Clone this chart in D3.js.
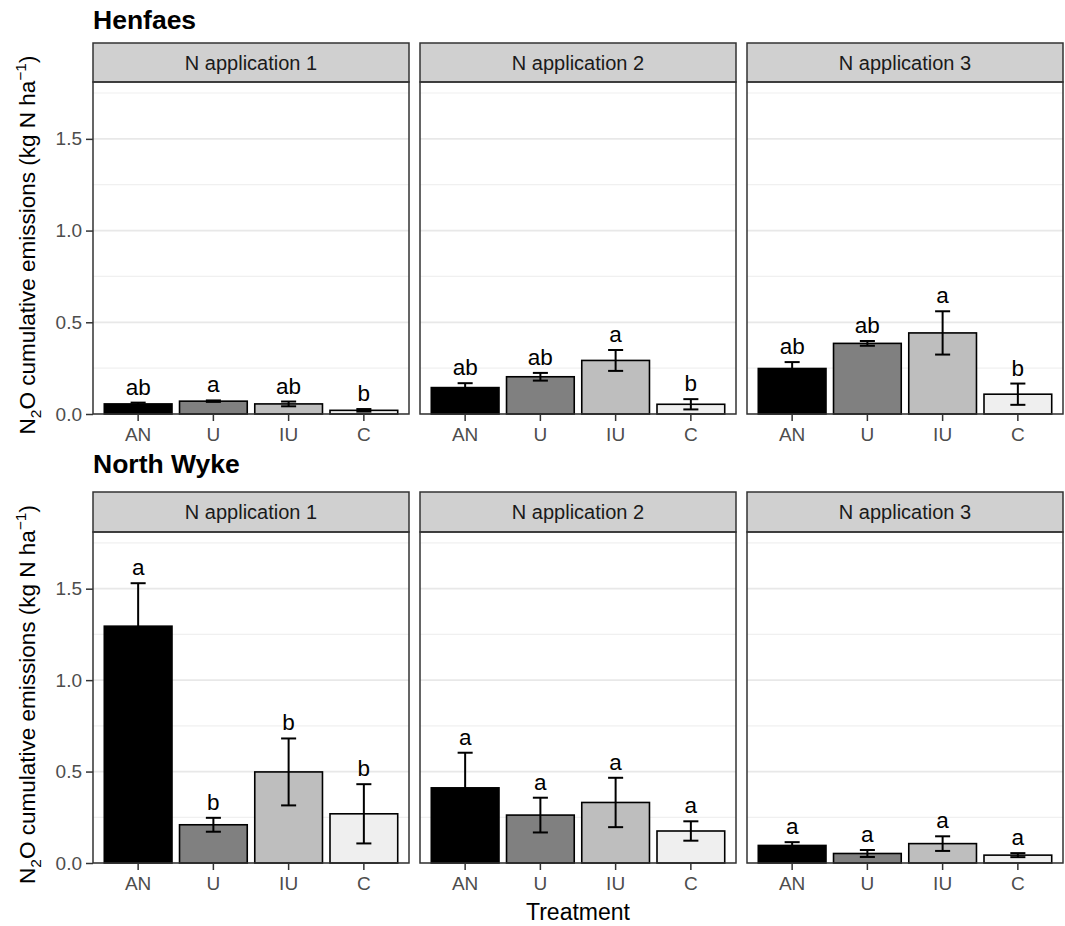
<!DOCTYPE html>
<html>
<head>
<meta charset="utf-8">
<script src="https://cdn.jsdelivr.net/npm/d3@7"></script>
<style>
  html, body { margin: 0; padding: 0; background: #fff; }
  svg { display: block; font-family: "Liberation Sans", Arial, Helvetica, sans-serif; }
</style>
</head>
<body>
<script>
// ---------------- DATA ----------------
const treatments = ["AN", "U", "IU", "C"];
const applications = ["N application 1", "N application 2", "N application 3"];
const sites = ["Henfaes", "North Wyke"];
const fillColors = ["#000000", "#808080", "#bebebe", "#efefef"];

// Henfaes: means, standard errors and significance letters, one row per application
const henfaesMean = [
  [0.055, 0.070, 0.055, 0.020],
  [0.144, 0.203, 0.292, 0.053],
  [0.248, 0.385, 0.442, 0.108]
];
const henfaesSE = [
  [0.007, 0.004, 0.013, 0.007],
  [0.024, 0.021, 0.057, 0.028],
  [0.035, 0.013, 0.118, 0.058]
];
const henfaesLetters = [
  ["ab", "a", "ab", "b"],
  ["ab", "ab", "a", "b"],
  ["ab", "ab", "a", "b"]
];

// North Wyke
const northWykeMean = [
  [1.295, 0.209, 0.498, 0.269],
  [0.411, 0.262, 0.331, 0.175],
  [0.096, 0.052, 0.106, 0.043]
];
const northWykeSE = [
  [0.235, 0.038, 0.183, 0.162],
  [0.192, 0.095, 0.135, 0.053],
  [0.018, 0.019, 0.040, 0.011]
];
const northWykeLetters = [
  ["a", "b", "b", "b"],
  ["a", "a", "a", "a"],
  ["a", "a", "a", "a"]
];

const yTicks = [0.0, 0.5, 1.0, 1.5];
const yTickLabels = ["0.0", "0.5", "1.0", "1.5"];
const yMinor = [0.25, 0.75, 1.25, 1.75];
const yMax = 1.81;

// ---------------- LAYOUT ----------------
const W = 1065, H = 926;
const panelX = [93, 420, 747];
const panelW = 316;
const rows = [
  { titleY: 29, stripTop: 43, stripBottom: 82, bottom: 414,
    mean: henfaesMean, se: henfaesSE, letters: henfaesLetters },
  { titleY: 473, stripTop: 492, stripBottom: 532, bottom: 863,
    mean: northWykeMean, se: northWykeSE, letters: northWykeLetters }
];

const svg = d3.select("body").append("svg")
  .attr("width", W).attr("height", H)
  .attr("viewBox", `0 0 ${W} ${H}`);

svg.append("rect").attr("width", W).attr("height", H).attr("fill", "#fff");

rows.forEach((row, r) => {
  const y = d3.scaleLinear().domain([0, yMax]).range([row.bottom, row.stripBottom]);

  // site title
  svg.append("text")
    .attr("x", panelX[0]).attr("y", row.titleY)
    .attr("font-size", 26.5).attr("font-weight", "bold").attr("fill", "#000")
    .text(sites[r]);

  // y axis label
  const cy = (row.stripBottom + row.bottom) / 2 - 3;
  const yl = svg.append("text")
    .attr("transform", `translate(35,${cy}) rotate(-90)`)
    .attr("text-anchor", "middle")
    .attr("font-size", 22.5).attr("fill", "#000");
  yl.append("tspan").text("N");
  yl.append("tspan").attr("font-size", 15.5).attr("dy", 6).text("2");
  yl.append("tspan").attr("dy", -6).text("O cumulative emissions (kg N ha");
  yl.append("tspan").attr("font-size", 15.5).attr("dy", -9).text("\u22121");
  yl.append("tspan").attr("dy", 9).text(")");

  applications.forEach((app, j) => {
    const x0 = panelX[j];
    const x = d3.scaleBand().domain(treatments)
      .range([x0, x0 + panelW]).paddingInner(0.1).paddingOuter(0.15);
    const step = x.step();
    const g = svg.append("g");

    // strip
    g.append("rect")
      .attr("x", x0).attr("y", row.stripTop)
      .attr("width", panelW).attr("height", row.stripBottom - row.stripTop)
      .attr("fill", "#d0d0d0").attr("stroke", "#333").attr("stroke-width", 1.5);
    g.append("text")
      .attr("x", x0 + panelW / 2).attr("y", (row.stripTop + row.stripBottom) / 2)
      .attr("dy", "0.36em").attr("text-anchor", "middle")
      .attr("font-size", 20).attr("fill", "#1a1a1a")
      .text(app);

    // grid
    g.selectAll(".minor").data(yMinor).join("line")
      .attr("x1", x0).attr("x2", x0 + panelW)
      .attr("y1", d => y(d)).attr("y2", d => y(d))
      .attr("stroke", "#f0f0f0").attr("stroke-width", 1.2);
    g.selectAll(".major").data(yTicks).join("line")
      .attr("x1", x0).attr("x2", x0 + panelW)
      .attr("y1", d => y(d)).attr("y2", d => y(d))
      .attr("stroke", "#e8e8e8").attr("stroke-width", 1.8);

    const data = treatments.map((t, i) => ({
      t, m: row.mean[j][i], se: row.se[j][i], lab: row.letters[j][i], fill: fillColors[i]
    }));

    // bars
    g.selectAll(".bar").data(data).join("rect")
      .attr("x", d => x(d.t)).attr("width", x.bandwidth())
      .attr("y", d => y(d.m)).attr("height", d => y(0) - y(d.m))
      .attr("fill", d => d.fill).attr("stroke", "#000").attr("stroke-width", 1.6);

    // error bars
    const capW = 0.2 * step;
    const eb = g.selectAll(".eb").data(data).join("g");
    eb.append("line")
      .attr("x1", d => x(d.t) + x.bandwidth() / 2).attr("x2", d => x(d.t) + x.bandwidth() / 2)
      .attr("y1", d => y(Math.max(0, d.m - d.se))).attr("y2", d => y(d.m + d.se))
      .attr("stroke", "#000").attr("stroke-width", 2);
    [d => d.m + d.se, d => Math.max(0, d.m - d.se)].forEach(fn => {
      eb.append("line")
        .attr("x1", d => x(d.t) + x.bandwidth() / 2 - capW / 2)
        .attr("x2", d => x(d.t) + x.bandwidth() / 2 + capW / 2)
        .attr("y1", d => y(fn(d))).attr("y2", d => y(fn(d)))
        .attr("stroke", "#000").attr("stroke-width", 2);
    });

    // significance letters
    g.selectAll(".lab").data(data).join("text")
      .attr("x", d => x(d.t) + x.bandwidth() / 2)
      .attr("y", d => y(d.m + d.se) - 8)
      .attr("text-anchor", "middle")
      .attr("font-size", 22.5).attr("fill", "#000")
      .text(d => d.lab);

    // panel border
    g.append("rect")
      .attr("x", x0).attr("y", row.stripBottom)
      .attr("width", panelW).attr("height", row.bottom - row.stripBottom)
      .attr("fill", "none").attr("stroke", "#333").attr("stroke-width", 1.5);

    // x axis
    const xa = g.append("g").attr("transform", `translate(0,${row.bottom})`)
      .call(d3.axisBottom(x).tickSize(7).tickPadding(7));
    xa.select(".domain").remove();
    xa.selectAll(".tick line").attr("stroke", "#333").attr("stroke-width", 1.5);
    xa.selectAll(".tick text").attr("font-size", 19).attr("fill", "#4d4d4d")
      .attr("font-family", "Liberation Sans, Arial, sans-serif");

    // y axis (first panel only)
    if (j === 0) {
      const ya = g.append("g").attr("transform", `translate(${x0},0)`)
        .call(d3.axisLeft(y).tickValues(yTicks)
          .tickFormat((d, i) => yTickLabels[i]).tickSize(7).tickPadding(4));
      ya.select(".domain").remove();
      ya.selectAll(".tick line").attr("stroke", "#333").attr("stroke-width", 1.5);
      ya.selectAll(".tick text").attr("font-size", 19).attr("fill", "#4d4d4d")
        .attr("font-family", "Liberation Sans, Arial, sans-serif");
    }
  });
});

// x axis title
svg.append("text")
  .attr("x", panelX[1] + panelW / 2).attr("y", 920)
  .attr("text-anchor", "middle")
  .attr("font-size", 23).attr("fill", "#000")
  .text("Treatment");
</script>
</body>
</html>
